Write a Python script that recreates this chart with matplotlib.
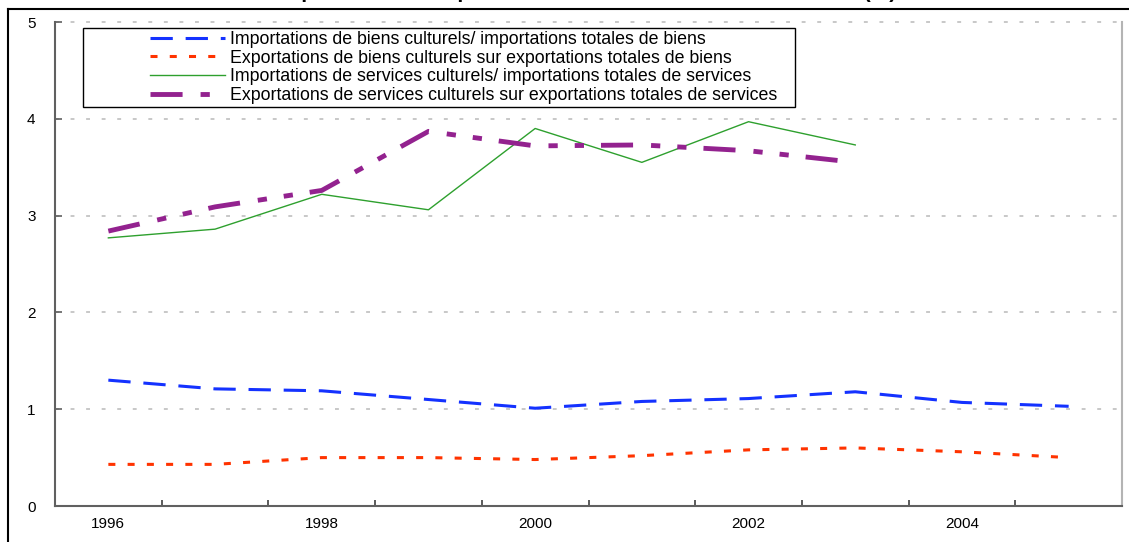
"""Cultural goods and services as share of total trade, 1996-2005."""

import matplotlib
matplotlib.use("Agg")
import matplotlib.pyplot as plt
from matplotlib.lines import Line2D
from matplotlib.patches import Rectangle
import numpy as np

plt.rcParams["font.family"] = ["Liberation Sans", "DejaVu Sans"]

years = [1996, 1997, 1998, 1999, 2000, 2001, 2002, 2003, 2004, 2005]
imp_biens = [1.30, 1.21, 1.19, 1.10, 1.01, 1.08, 1.11, 1.18, 1.07, 1.03]
exp_biens = [0.43, 0.43, 0.50, 0.50, 0.48, 0.52, 0.58, 0.60, 0.56, 0.50]
imp_services = [2.77, 2.86, 3.22, 3.06, 3.90, 3.55, 3.97, 3.73]
exp_services = [2.84, 3.09, 3.26, 3.87, 3.72, 3.73, 3.67, 3.55]

labels = [
    "Importations de biens culturels/ importations totales de biens",
    "Exportations de biens culturels sur exportations totales de biens",
    "Importations de services culturels/ importations totales de services",
    "Exportations de services culturels sur exportations totales de services",
]
title = "Importations et exportations de biens et services culturels (%)"

W, H = 1129, 542
fig = plt.figure(figsize=(W / 100, H / 100), dpi=100)
ax = fig.add_axes([55 / W, 1 - 506 / H, (1122 - 55) / W, (506 - 22) / H])

x = np.arange(len(years))
l1, = ax.plot(x, imp_biens, color="#1432FF", lw=2.2, dashes=(7.3, 4.2))
l2, = ax.plot(x, exp_biens, color="#FF3300", lw=2.2, dashes=(2.3, 4.0))
l3, = ax.plot(x[:len(imp_services)], imp_services, color="#2EA02E", lw=1.0)
l4, = ax.plot(x[:len(exp_services)], exp_services, color="#93228F", lw=3.5,
              dashes=(6.6, 3.7, 1.9, 3.5, 1.9, 3.5))

ax.set_xlim(-0.5, len(years) - 0.5)
ax.set_ylim(0, 5)

# category boundaries get the ticks, every other year gets a label
ax.set_xticks(np.arange(-0.5, len(years), 1.0))
ax.set_xticklabels([])
ax.set_xticks(x[::2], minor=True)
ax.set_xticklabels([str(y) for y in years[::2]], minor=True)
ax.tick_params(axis="x", which="major", direction="in", length=4, width=1.2,
               color="#404040")
ax.tick_params(axis="x", which="minor", length=0, pad=8, labelsize=11)

ax.set_yticks(range(0, 6))
ax.tick_params(axis="y", direction="in", length=5, width=1.2, color="#606060",
               pad=14, labelsize=11)

ax.yaxis.grid(True, color="#C8C8C8", lw=1.4, dashes=(2.0, 6.0))
for gl in ax.yaxis.get_gridlines():
    gl.set_clip_on(False)
ax.set_axisbelow(True)

ax.spines["top"].set_visible(False)
ax.spines["left"].set_color("#606060")
ax.spines["bottom"].set_color("#606060")
ax.spines["left"].set_linewidth(1.5)
ax.spines["bottom"].set_linewidth(1.5)
ax.spines["right"].set_color("#B4B4B4")
ax.spines["right"].set_linewidth(1.5)

# legend box drawn by hand (wide left margin in the original)
fig.add_artist(Rectangle((83 / W, 1 - 107 / H), (795 - 83) / W, (107 - 28) / H,
                         transform=fig.transFigure, facecolor="white",
                         edgecolor="black", lw=1.0, zorder=3))
leg = fig.legend([l1, l2, l3, l4], labels, loc="upper left",
                 bbox_to_anchor=(150 / W, 1 - 31 / H), frameon=False,
                 fontsize=12.8, handlelength=4.2, handletextpad=0.3,
                 labelspacing=0.09, borderpad=0, borderaxespad=0)
leg.set_zorder(4)

# outer frame and the clipped title above it
fig.add_artist(Line2D([8 / W, 1], [1 - 9 / H, 1 - 9 / H], color="black", lw=1.5,
                      transform=fig.transFigure))
fig.add_artist(Line2D([8 / W, 8 / W], [0, 1 - 9 / H], color="black", lw=1.5,
                      transform=fig.transFigure))
fig.text(587 / W, 1 + 1.5 / H, title, ha="center", va="baseline",
         fontsize=15, fontweight="bold")

fig.savefig("out.png", dpi=100)
